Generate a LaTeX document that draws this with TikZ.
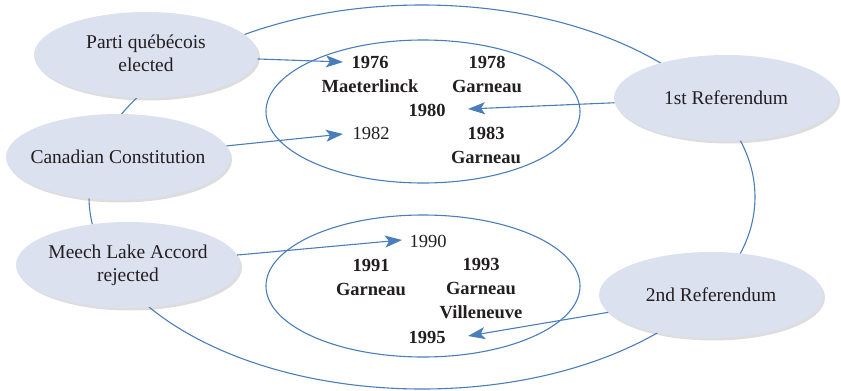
\documentclass[tikz,border=0pt]{standalone}
\usepackage{fontspec}
\setmainfont{Liberation Serif}
\usetikzlibrary{shapes.geometric,arrows.meta,shadows}
\definecolor{lineblue}{RGB}{74,126,187}
\definecolor{nodefill}{RGB}{220,225,240}
\definecolor{txt}{RGB}{35,31,32}
\begin{document}
\begin{tikzpicture}[x=1pt,y=-1pt,
  font=\fontsize{19.5}{23}\selectfont, text=txt,
  event/.style={ellipse, fill=nodefill, draw=none, minimum width=224pt,
    minimum height=86pt, inner sep=0pt,
    drop shadow={shadow xshift=2pt, shadow yshift=-2.5pt, opacity=0.22, fill=black!60}},
  ring/.style={draw=lineblue, line width=1.1pt},
  arr/.style={draw=lineblue, line width=1.1pt, -{Stealth[length=17pt,width=12pt,inset=4pt]}},
  yr/.style={inner sep=0pt, align=center, font=\fontsize{18.5}{24}\selectfont\bfseries},
  yrn/.style={inner sep=0pt, align=center, font=\fontsize{18.5}{24}\selectfont}
]
\useasboundingbox (0,0) rectangle (841,391);
% outer ring
\draw[ring] (422,197) ellipse [x radius=333pt, y radius=192pt];
% inner rings
\draw[ring] (423,111.5) ellipse [x radius=157pt, y radius=71.5pt];
\draw[ring] (423,286) ellipse [x radius=157pt, y radius=71pt];
% events
\node[event] (pq) at (146,55) {\makebox[0pt]{\begin{tabular}{@{}c@{}}Parti québécois\\elected\end{tabular}}};
\node[event] (cc) at (118,157) {\makebox[0pt]{Canadian Constitution}};
\node[event] (ml) at (128,265) {\makebox[0pt]{\begin{tabular}{@{}c@{}}Meech Lake Accord\\rejected\end{tabular}}};
\node[event] (fr) at (726,98) {\makebox[0pt]{1st Referendum}};
\node[event] (sr) at (711,295) {\makebox[0pt]{2nd Referendum}};
% years, upper ring
\node[yr] (y76) at (370,74) {1976\\Maeterlinck};
\node[yr] (y78) at (487,74) {1978\\Garneau};
\node[yr] (y80) at (427,110) {1980};
\node[yrn] (y82) at (371,133) {1982};
\node[yr] (y83) at (486,145) {1983\\Garneau};
% years, lower ring
\node[yrn] (y90) at (428,241) {1990};
\node[yr] (y91) at (371,277) {1991\\Garneau};
\node[yr] (y93) at (481,289) {1993\\Garneau\\Villeneuve};
\node[yr] (y95) at (427,337) {1995};
% arrow ends
\coordinate (a76) at (343,62);
\coordinate (a82) at (343,134);
\coordinate (a80) at (468,109);
\coordinate (a90) at (402,240);
\coordinate (a95) at (468,336);
\draw[arr] (pq) -- (a76);
\draw[arr] (cc) -- (a82);
\draw[arr] (fr) -- (a80);
\draw[arr] (ml) -- (a90);
\draw[arr] (sr) -- (a95);
\end{tikzpicture}
\end{document}
